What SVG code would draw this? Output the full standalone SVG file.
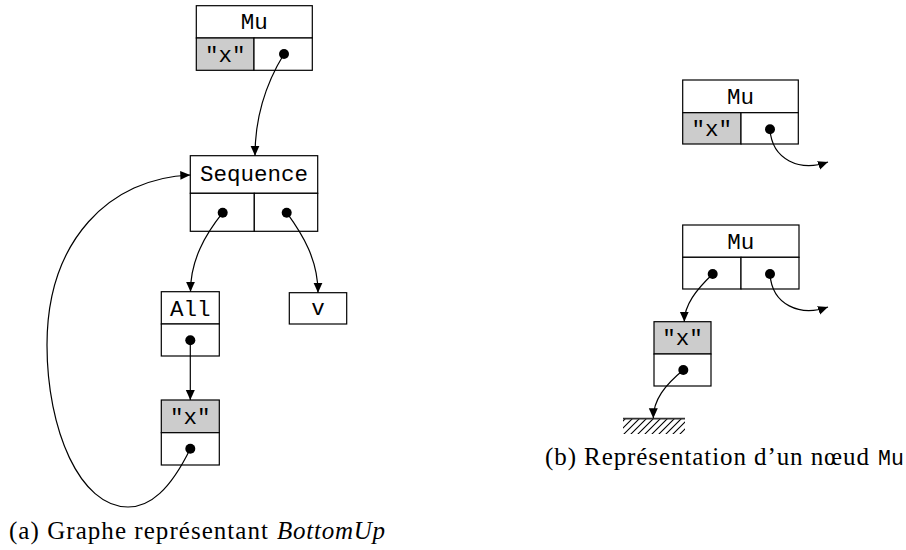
<svg xmlns="http://www.w3.org/2000/svg" width="906" height="550" viewBox="0 0 906 550">
  <style>
    .box { fill: #ffffff; stroke: #000000; stroke-width: 1.2; }
    .key { fill: #cccccc; stroke: #000000; stroke-width: 1.2; }
    .tt { font-family: "Liberation Mono", "DejaVu Sans Mono", monospace; font-size: 22.5px; fill: #000000; text-anchor: middle; }
    .cap { font-family: "Liberation Serif", "DejaVu Serif", serif; font-size: 25px; fill: #000000; }
    .capt { font-family: "Liberation Mono", "DejaVu Sans Mono", monospace; font-size: 21.5px; fill: #000000; }
    .dot { fill: #000000; }
    .edge { fill: none; stroke: #000000; stroke-width: 1.2; marker-end: url(#head); }
    .hatch { stroke: #000000; stroke-width: 1.1; }
  </style>
  <defs>
    <marker id="head" markerUnits="userSpaceOnUse" markerWidth="11" markerHeight="10" refX="10" refY="4.5" orient="auto">
      <path d="M0,0 L10,4.5 L0,9 z" fill="#000000"/>
    </marker>
    <clipPath id="groundClip">
      <rect x="623" y="419" width="62" height="15"/>
    </clipPath>
  </defs>

  <!-- (a) BottomUp graph -->
  <g id="mu-a">
    <rect class="box" x="196.3" y="5.7" width="116" height="32.3"/>
    <rect class="key" x="196.3" y="38" width="57.7" height="32.3"/>
    <rect class="box" x="254" y="38" width="58.3" height="32.3"/>
    <text class="tt" x="254.3" y="29">Mu</text>
    <text class="tt" x="225.2" y="61.5">"x"</text>
    <circle class="dot" cx="284" cy="54" r="5"/>
  </g>

  <g id="sequence">
    <rect class="box" x="190.3" y="155.7" width="127.4" height="37.6"/>
    <rect class="box" x="190.3" y="193.3" width="64" height="38"/>
    <rect class="box" x="254.3" y="193.3" width="63.4" height="38"/>
    <text class="tt" x="254" y="180.7">Sequence</text>
    <circle class="dot" cx="222.7" cy="212.7" r="5"/>
    <circle class="dot" cx="286.7" cy="212.7" r="5"/>
  </g>

  <g id="all">
    <rect class="box" x="161.3" y="291.7" width="58" height="32.3"/>
    <rect class="box" x="161.3" y="324" width="58" height="32"/>
    <text class="tt" x="190.3" y="315.5">All</text>
    <circle class="dot" cx="190.3" cy="340.3" r="5"/>
  </g>

  <g id="v">
    <rect class="box" x="289.3" y="292.7" width="57.4" height="31.3"/>
    <text class="tt" x="318" y="314.5">v</text>
  </g>

  <g id="x-a">
    <rect class="key" x="161.3" y="400" width="58" height="32.7"/>
    <rect class="box" x="161.3" y="432.7" width="58" height="32.3"/>
    <text class="tt" x="190.3" y="423.5">"x"</text>
    <circle class="dot" cx="190.3" cy="448.7" r="5"/>
  </g>

  <!-- (b) Mu node layouts -->
  <g id="mu-b1">
    <rect class="box" x="682.7" y="80" width="115.6" height="32.7"/>
    <rect class="key" x="682.7" y="112.7" width="58.3" height="31.3"/>
    <rect class="box" x="741" y="112.7" width="57.3" height="31.3"/>
    <text class="tt" x="740.5" y="103.5">Mu</text>
    <text class="tt" x="711.8" y="135.5">"x"</text>
    <circle class="dot" cx="770" cy="129.3" r="5"/>
  </g>

  <g id="mu-b2">
    <rect class="box" x="682.7" y="225" width="116.3" height="32.3"/>
    <rect class="box" x="682.7" y="257.3" width="58.3" height="31.7"/>
    <rect class="box" x="741" y="257.3" width="58" height="31.7"/>
    <text class="tt" x="740.8" y="248.5">Mu</text>
    <circle class="dot" cx="712.7" cy="274" r="5"/>
    <circle class="dot" cx="770" cy="274" r="5"/>
  </g>

  <g id="x-b">
    <rect class="key" x="654" y="321.7" width="57" height="32.3"/>
    <rect class="box" x="654" y="354" width="57" height="32"/>
    <text class="tt" x="682.5" y="345">"x"</text>
    <circle class="dot" cx="683.3" cy="370" r="5"/>
  </g>

  <g id="ground">
    <g clip-path="url(#groundClip)">
      <path class="hatch" d="M608,436 L626,418 M615,436 L633,418 M622,436 L640,418 M629,436 L647,418 M636,436 L654,418 M643,436 L661,418 M650,436 L668,418 M657,436 L675,418 M664,436 L682,418 M671,436 L689,418 M678,436 L696,418"/>
    </g>
    <line x1="623" y1="418.6" x2="685" y2="418.6" stroke="#333333" stroke-width="1.6"/>
  </g>

  <g id="connectors">
    <path class="edge" d="M284,54 C268,80 255,115 255,155.7"/>
    <path class="edge" d="M222.7,212.7 C205,235 190.5,260 190.5,291.7"/>
    <path class="edge" d="M286.7,212.7 C303,235 318,260 318,292.7"/>
    <path class="edge" d="M190.3,340.3 L190.3,400"/>
    <path class="edge" d="M190.3,448.7 C170,490 150,507 128,507 C80,507 47,430 47,345 C47,240 110,178 190.3,175"/>
    <path class="edge" d="M770,129.3 C772,160 800,172 828,162"/>
    <path class="edge" d="M770,274 C772,305 800,317 828,307"/>
    <path class="edge" d="M712.7,274 C696,290 684.3,305 684.3,321.7"/>
    <path class="edge" d="M683.3,370 C665,385 653.3,400 653.3,418.3"/>
  </g>

  <!-- captions -->
  <g id="caption-a">
    <text class="cap" x="9" y="538.5" textLength="259" lengthAdjust="spacing">(a) Graphe représentant</text>
    <text class="cap" x="277" y="538.5" font-style="italic" textLength="108" lengthAdjust="spacing">BottomUp</text>
  </g>
  <g id="caption-b">
    <text class="cap" x="545" y="465" textLength="324" lengthAdjust="spacing">(b) Représentation d’un nœud</text>
    <text class="capt" x="878" y="465">Mu</text>
  </g>
</svg>
